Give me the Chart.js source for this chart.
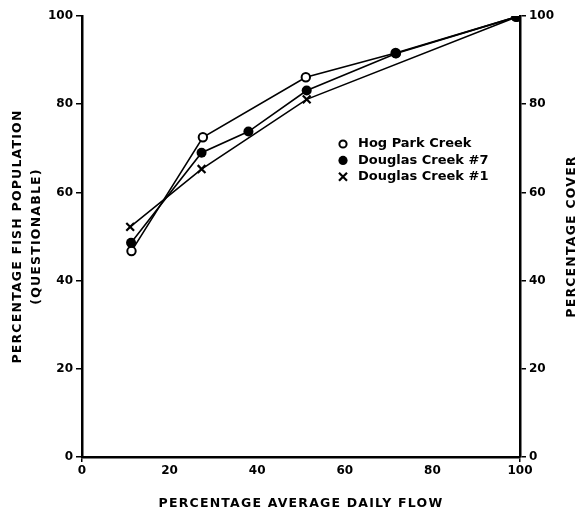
<!DOCTYPE html>
<html lang="en">
<head>
    <meta charset="UTF-8">
    <title>Fish population vs flow</title>
    <script src="https://cdnjs.cloudflare.com/ajax/libs/Chart.js/4.4.0/chart.umd.min.js"></script>
    <style>
        html, body { margin: 0; padding: 0; background: #fff; }
        .wrap { width: 585px; height: 513px; position: relative; }
    </style>
</head>
<body>
    <div class="wrap"><canvas id="flowChart"></canvas></div>

    <script>
        // data (x = % average daily flow, y = %)
        const hogX = [11.3, 27.6, 51.1, 71.6, 99.2];
        const hogY = [46.7, 72.5, 86.1, 91.6, 99.8];
        const d7X = [11.2, 27.3, 38.0, 51.3, 71.7, 99.2];
        const d7Y = [48.6, 69.0, 73.8, 83.1, 91.5, 99.8];
        const d1X = [11.0, 27.3, 51.3, 99.2];
        const d1Y = [52.2, 65.3, 81.1, 99.8];
        const tickValues = [0, 20, 40, 60, 80, 100];
        const seriesNames = ['Hog Park Creek', 'Douglas Creek #7', 'Douglas Creek #1'];

        const FONT = '"DejaVu Sans", sans-serif';

        function toPoints(xs, ys) {
            return xs.map((x, i) => ({ x: x, y: ys[i] }));
        }

        // titles drawn by hand so they can be letter-spaced and rotated like the original
        const titlesPlugin = {
            id: 'titles',
            afterDraw(chart) {
                const ctx = chart.ctx;
                const area = chart.chartArea;
                const midY = (area.top + area.bottom) / 2;
                ctx.save();
                ctx.fillStyle = '#000';
                ctx.font = 'bold 12.5px ' + FONT;
                ctx.letterSpacing = '1.2px';
                ctx.textAlign = 'center';
                ctx.textBaseline = 'middle';

                ctx.fillText('PERCENTAGE AVERAGE DAILY FLOW', (area.left + area.right) / 2, 504);

                ctx.save();
                ctx.translate(18, midY);
                ctx.rotate(-Math.PI / 2);
                ctx.fillText('PERCENTAGE FISH POPULATION', 0, 0);
                ctx.restore();

                ctx.save();
                ctx.translate(37, midY);
                ctx.rotate(-Math.PI / 2);
                ctx.fillText('(QUESTIONABLE)', 0, 0);
                ctx.restore();

                ctx.save();
                ctx.translate(572, midY);
                ctx.rotate(-Math.PI / 2);
                ctx.fillText('PERCENTAGE COVER', 0, 0);
                ctx.restore();

                ctx.restore();
            }
        };

        // legend sits inside the plot, like in the figure
        const legendPlugin = {
            id: 'inlineLegend',
            afterDraw(chart) {
                const ctx = chart.ctx;
                ctx.save();
                ctx.font = 'bold 13px ' + FONT;
                ctx.textBaseline = 'middle';
                ctx.strokeStyle = '#000';
                const x0 = 343;
                seriesNames.forEach((name, i) => {
                    const y = 144 + i * 16.4;
                    ctx.beginPath();
                    if (i === 0) {
                        ctx.lineWidth = 2;
                        ctx.arc(x0, y, 3.6, 0, Math.PI * 2);
                        ctx.fillStyle = '#fff';
                        ctx.fill();
                        ctx.stroke();
                    } else if (i === 1) {
                        ctx.arc(x0, y, 4.6, 0, Math.PI * 2);
                        ctx.fillStyle = '#000';
                        ctx.fill();
                    } else {
                        ctx.lineWidth = 2.2;
                        ctx.moveTo(x0 - 4, y - 4); ctx.lineTo(x0 + 4, y + 4);
                        ctx.moveTo(x0 + 4, y - 4); ctx.lineTo(x0 - 4, y + 4);
                        ctx.stroke();
                    }
                    ctx.fillStyle = '#000';
                    ctx.fillText(name, 358, y);
                });
                ctx.restore();
            }
        };

        const tickFont = { family: FONT, size: 12, weight: 'bold' };

        new Chart(document.getElementById('flowChart'), {
            type: 'line',
            data: {
                datasets: [
                    {
                        label: seriesNames[0],
                        data: toPoints(hogX, hogY),
                        borderColor: '#000',
                        borderWidth: 1.6,
                        pointStyle: 'circle',
                        pointRadius: 4.2,
                        pointBorderWidth: 2,
                        pointBorderColor: '#000',
                        pointBackgroundColor: '#fff',
                        order: 2
                    },
                    {
                        label: seriesNames[1],
                        data: toPoints(d7X, d7Y),
                        borderColor: '#000',
                        borderWidth: 1.6,
                        pointStyle: 'circle',
                        pointRadius: 5,
                        pointBorderWidth: 0,
                        pointBackgroundColor: '#000',
                        order: 1
                    },
                    {
                        label: seriesNames[2],
                        data: toPoints(d1X, d1Y),
                        borderColor: '#000',
                        borderWidth: 1.6,
                        pointStyle: 'crossRot',
                        pointRadius: 5.5,
                        pointBorderWidth: 2.2,
                        pointBorderColor: '#000',
                        pointBackgroundColor: '#000',
                        order: 0
                    }
                ]
            },
            options: {
                responsive: true,
                maintainAspectRatio: false,
                animation: false,
                layout: { padding: { top: 16, left: 0, right: 0, bottom: 0 } },
                plugins: {
                    legend: { display: false },
                    tooltip: { enabled: false }
                },
                scales: {
                    x: {
                        type: 'linear',
                        min: 0,
                        max: 100,
                        afterBuildTicks: s => { s.ticks = tickValues.map(v => ({ value: v })); },
                        afterFit: s => { s.height = 56; },
                        border: { color: '#000', width: 2.5 },
                        grid: {
                            drawOnChartArea: false,
                            tickLength: 5,
                            lineWidth: 1.5,
                            color: c => (c.tick && (c.tick.value === 0 || c.tick.value === 100)) ? '#000' : 'rgba(0,0,0,0)'
                        },
                        ticks: { color: '#000', font: tickFont, padding: 2, maxRotation: 0 }
                    },
                    y: {
                        type: 'linear',
                        position: 'left',
                        min: 0,
                        max: 100,
                        afterBuildTicks: s => { s.ticks = tickValues.map(v => ({ value: v })); },
                        afterFit: s => { s.width = 82; },
                        border: { color: '#000', width: 2.5 },
                        grid: { drawOnChartArea: false, tickLength: 6, lineWidth: 1.5, color: '#000' },
                        ticks: { color: '#000', font: tickFont, padding: 3 }
                    },
                    y2: {
                        type: 'linear',
                        position: 'right',
                        min: 0,
                        max: 100,
                        afterBuildTicks: s => { s.ticks = tickValues.map(v => ({ value: v })); },
                        afterFit: s => { s.width = 65; },
                        border: { color: '#000', width: 2.5 },
                        grid: { drawOnChartArea: false, tickLength: 6, lineWidth: 1.5, color: '#000' },
                        ticks: { color: '#000', font: tickFont, padding: 3 }
                    }
                }
            },
            plugins: [titlesPlugin, legendPlugin]
        });
    </script>
</body>
</html>
